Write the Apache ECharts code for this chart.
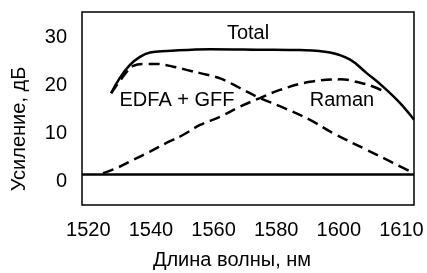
<!DOCTYPE html>
<html>
<head>
<meta charset="utf-8">
<script src="https://cdn.jsdelivr.net/npm/echarts@6/dist/echarts.min.js"></script>
<style>
  html, body { margin: 0; padding: 0; background: #fff; }
  #chart { width: 427px; height: 273px; }
</style>
</head>
<body>
<div id="chart"></div>
<script>
// длина волны, нм / усиление, дБ
const totalData = [
  [1527.3, 16.8], [1530.1, 20.0], [1533.3, 22.7], [1536.5, 24.4], [1539.7, 25.3],
  [1545.0, 25.6], [1558.9, 26.0], [1574.8, 25.9], [1587.6, 25.8], [1597.2, 25.3],
  [1603.6, 23.8], [1608.9, 21.0], [1614.1, 18.2], [1619.5, 14.8], [1624.0, 11.3]
]
const edfaData = [
  [1527.3, 16.8], [1532.3, 21.3], [1534.3, 22.5], [1537.5, 22.9], [1541.9, 22.9],
  [1547.1, 22.35], [1552.5, 21.5], [1555.7, 21.0], [1562.1, 19.9], [1568.4, 17.9],
  [1574.8, 15.8], [1581.2, 14.1], [1590.8, 11.25], [1598.1, 8.5], [1608.9, 5.0],
  [1617.3, 2.3], [1623.7, 0.2]
]
const ramanData = [
  [1524.7, 0.15], [1529.2, 1.25], [1534.3, 2.9], [1539.7, 4.65], [1545.1, 6.5],
  [1550.2, 8.1], [1555.7, 10.2], [1562.1, 11.9], [1568.4, 14.0], [1574.8, 15.8],
  [1581.2, 17.5], [1590.8, 19.2], [1600.4, 19.7], [1606.8, 19.0], [1612.1, 17.9],
  [1615.3, 16.8]
]
const xTickValues = [1520, 1540, 1560, 1580, 1600, 1620]
const xTickLabels = ['1520', '1540', '1560', '1580', '1600', '1610']
const yTickValues = [0, 10, 20, 30]

const font = '"Liberation Sans", Arial, sans-serif'
const dashStyle = { color: '#000', width: 2.5, type: [11, 6] }

const chart = echarts.init(document.getElementById('chart'))
chart.setOption({
  animation: false,
  grid: {
    left: 82, top: 12, width: 332, height: 193,
    show: true, borderColor: '#000', borderWidth: 1.5
  },
  xAxis: {
    type: 'value',
    min: 1518, max: 1624, interval: 2,
    axisLine: { show: false },
    axisTick: { show: false },
    splitLine: { show: false },
    axisLabel: {
      margin: 15,
      color: '#000',
      fontSize: 20,
      fontFamily: font,
      showMinLabel: true,
      showMaxLabel: true,
      formatter: v => {
        const i = xTickValues.indexOf(Math.round(v))
        return i >= 0 && Math.abs(v - xTickValues[i]) < 1e-6 ? xTickLabels[i] : ''
      }
    }
  },
  yAxis: {
    type: 'value',
    min: -6.5, max: 33.75, interval: 0.25,
    axisLine: { show: false },
    axisTick: { show: false },
    splitLine: { show: false },
    axisLabel: {
      margin: 15,
      color: '#000',
      fontSize: 20,
      fontFamily: font,
      verticalAlign: 'top',
      lineHeight: 16,
      formatter: v => {
        const r = Math.round(v)
        return Math.abs(v - r) < 1e-6 && yTickValues.includes(r) ? String(r) : ''
      }
    }
  },
  graphic: [
    { type: 'text', x: 19, y: 129, rotation: Math.PI / 2,
      style: { text: 'Усиление, дБ', font: '20px ' + font, fill: '#000', align: 'center', verticalAlign: 'middle' } },
    { type: 'text', x: 232, y: 260,
      style: { text: 'Длина волны, нм', font: '20px ' + font, fill: '#000', align: 'center', verticalAlign: 'middle' } },
    { type: 'text', x: 248, y: 33,
      style: { text: 'Total', font: '20px ' + font, fill: '#000', align: 'center', verticalAlign: 'middle' } },
    { type: 'text', x: 177, y: 100,
      style: { text: 'EDFA + GFF', font: '20px ' + font, fill: '#000', align: 'center', verticalAlign: 'middle' } },
    { type: 'text', x: 342, y: 100,
      style: { text: 'Raman', font: '20px ' + font, fill: '#000', align: 'center', verticalAlign: 'middle' } }
  ],
  series: [
    {
      name: 'EDFA + GFF',
      type: 'line',
      data: edfaData,
      smooth: 0.4,
      showSymbol: false,
      lineStyle: dashStyle
    },
    {
      name: 'Raman',
      type: 'line',
      data: ramanData,
      smooth: 0.4,
      showSymbol: false,
      lineStyle: dashStyle
    },
    {
      name: 'Total',
      type: 'line',
      data: totalData,
      smooth: 0.4,
      showSymbol: false,
      lineStyle: { color: '#000', width: 2.5 },
      markLine: {
        silent: true,
        symbol: 'none',
        label: { show: false },
        lineStyle: { color: '#000', width: 2.5, type: 'solid' },
        data: [{ yAxis: 0 }]
      }
    }
  ]
})
</script>
</body>
</html>
